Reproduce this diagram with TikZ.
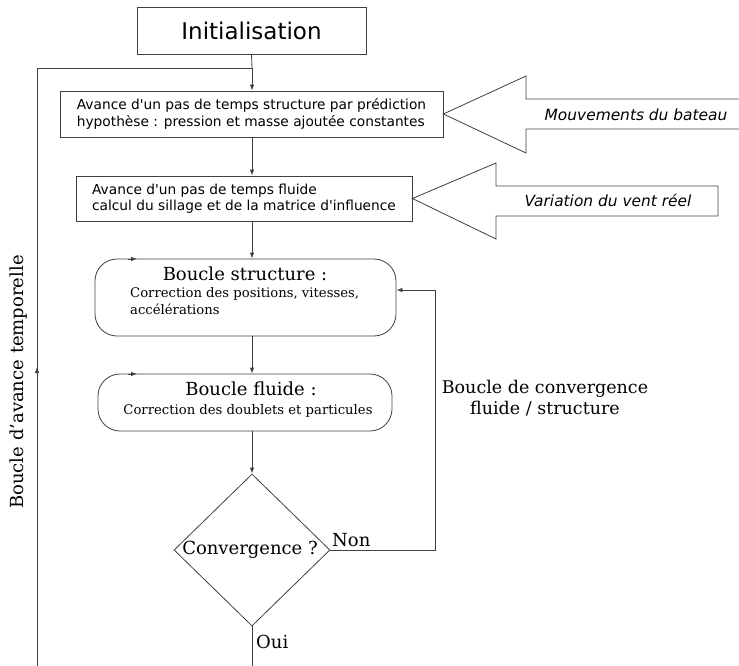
\documentclass[tikz,border=0pt]{standalone}
\usepackage{fontspec}
\setmainfont{DejaVu Serif}
\newfontfamily\sansf{DejaVu Sans}
\usetikzlibrary{shapes.geometric,arrows.meta,decorations.markings}
\begin{document}
\begin{tikzpicture}[x=1pt,y=-1pt,
  ln/.style={draw=black!75,line width=0.8pt},
  tip/.style={-{Latex[length=6pt,width=4.5pt]}},
  sbox/.style={ln,rectangle,inner sep=0pt,font=\sansf\fontsize{13.75}{16.5}\selectfont,align=left},
  rbox/.style={ln,rectangle,rounded corners=22pt,inner sep=0pt,align=center},
  dia/.style={ln,diamond,inner sep=0pt,minimum width=156pt,minimum height=152pt},
  lab/.style={inner sep=0pt,font=\fontsize{18}{21}\selectfont},
  sub/.style={inner sep=0pt,font=\fontsize{13.2}{17}\selectfont},
  arrlab/.style={inner sep=0pt,font=\sansf\itshape\fontsize{15.4}{18}\selectfont},
  big/.style={ln,line join=miter},
  midup/.style={postaction={decorate},decoration={markings,mark=at position 0.5 with {\arrow{Latex[length=6pt,width=4.5pt]}}}}
]
\useasboundingbox (0,0) rectangle (739,666);

\node[ln,rectangle,minimum width=229pt,minimum height=47pt,inner sep=0pt,font=\sansf\fontsize{23}{27}\selectfont] (init) at (251.5,30.5) {Initialisation};

\node[sbox,minimum width=383pt,minimum height=46pt] (box2) at (251.5,114) {Avance d'un pas de temps structure par prédiction\\hypothèse : pression et masse ajoutée constantes};

\node[sbox,minimum width=336pt,minimum height=45pt] (box3) at (244,198.5) {Avance d'un pas de temps fluide\\calcul du sillage et de la matrice d'influence};

\node[rbox,minimum width=301pt,minimum height=77pt] (rb1) at (245.5,297.5) {};
\node[lab] (rb1t) at (245,274) {Boucle structure :};
\node[sub,anchor=north west,align=left] (rb1s) at (130,287) {Correction des positions, vitesses,\\accélérations};

\node[rbox,minimum width=294pt,minimum height=57pt] (rb2) at (245,402.5) {};
\node[lab] (rb2t) at (251,389) {Boucle fluide :};
\node[sub] (rb2s) at (248,411) {Correction des doublets et particules};

\node[dia] (dia) at (252,550) {};
\node[lab] (diat) at (250,550) {Convergence ?};

% block arrows
\draw[big] (739,99) -- (526,99) -- (526,76) -- (box2.east) -- (526,153) -- (526,129) -- (739,129);
\node[arrlab] (mv) at (636,115) {Mouvements du bateau};
\draw[big] (718,186) -- (496,186) -- (496,163) -- (box3.east) -- (496,239) -- (496,216) -- (718,216) -- cycle;
\node[arrlab] (vv) at (608,200) {Variation du vent réel};

% main flow
\coordinate (j) at (252,68);
\coordinate (bl) at (37,666);
\coordinate (bot) at (252,666);
\draw[ln] (init.south) -- (j);
\draw[ln,tip] (j) -- (j |- box2.north);
\draw[ln,tip] (box2.south -| j) -- (j |- box3.north);
\draw[ln,tip] (box3.south -| j) -- (j |- rb1.north);
\draw[ln,tip] (rb1.south -| j) -- (j |- rb2.north);
\draw[ln,tip] (rb2.south -| j) -- (dia.north);
\draw[ln] (dia.south) -- (bot);
\draw[ln,midup] (bl) -- (37,68);
\draw[ln] (37,68) -- (j);

% convergence loop
\coordinate (cr) at (435,290);
\draw[ln] (dia.east) -| (cr);
\draw[ln,tip] (cr) -- (rb1.east |- cr);

% decorative tips on rounded boxes
\draw[ln,tip] (128,259) -- (137,259);
\draw[ln,tip] (128,374) -- (137,374);

% labels
\node[lab,anchor=south west] (non) at (332,547) {Non};
\node[lab,anchor=west] (oui) at (256,642) {Oui};
\node[lab,font=\fontsize{17.5}{21.5}\selectfont,align=center] (conv) at (545,398) {Boucle de convergence\\fluide / structure};
\node[lab,rotate=90] (temp) at (19,382) {Boucle d'avance temporelle};
\end{tikzpicture}
\end{document}
